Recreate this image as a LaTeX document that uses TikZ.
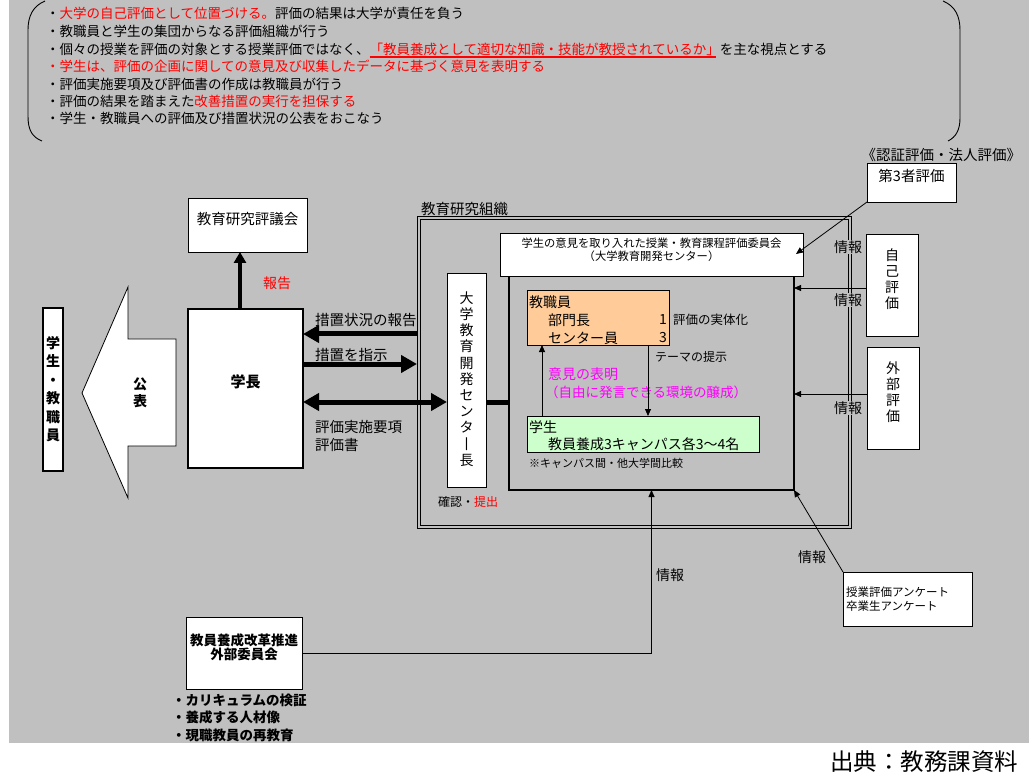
\documentclass[tikz,border=0pt]{standalone}
\usepackage{fontspec}
\usepackage{graphicx}
\newfontfamily\cjk{Noto Sans CJK JP}
\usetikzlibrary{arrows.meta,fit}
\definecolor{bg}{HTML}{C0C0C0}
\definecolor{orangebox}{HTML}{FFCC99}
\definecolor{greenbox}{HTML}{CCFFCC}
\definecolor{mag}{HTML}{FF00FF}
\newcommand\fsz[2]{\fontsize{#1}{#2}\selectfont}
\begin{document}
\begin{tikzpicture}[x=1pt,y=-1pt,
  every node/.style={inner sep=0pt, outer sep=0pt, font=\cjk},
  box/.style={draw=black, line width=0.8pt, fill=white, inner sep=0pt},
  boldbox/.style={draw=black, line width=2pt, fill=white, inner sep=0pt},
  thinarrow/.style={draw=black, line width=0.8pt, -{Triangle[length=7pt,width=6pt]}},
  fatarrow/.style={draw=black, line width=5pt, -{Triangle[length=16pt,width=17pt]}},
  toptxt/.style={anchor=west, font=\cjk\fsz{13.5}{17}},
  lbl/.style={font=\cjk\fsz{14}{16}},
  info/.style={font=\cjk\fsz{14}{16}, fill=bg, inner sep=0.5pt},
  ]
% page and background
\fill[white] (0,0) rectangle (1029,778);
\useasboundingbox (0,0) rectangle (1029,778);
\fill[bg] (9,0) rectangle (1029,743);

% top bracket box
\draw[line width=0.9pt] (45,1) .. controls (33,6) and (28,16) .. (28,30) -- (28,116) .. controls (28,130) and (32,137) .. (42,141);
\draw[line width=0.9pt] (943,1) .. controls (955,6) and (960,16) .. (960,30) -- (960,118) .. controls (960,130) and (956,137) .. (948,141);
\node[toptxt] (t1) at (46,13.5) {・{\color{red}大学の自己評価として位置づける。}評価の結果は大学が責任を負う};
\node[toptxt] (t2) at (46,31.5) {・教職員と学生の集団からなる評価組織が行う};
\node[toptxt] (t3a) at (46,49.5) {・個々の授業を評価の対象とする授業評価ではなく、};
\node[anchor=base west, font=\cjk\fsz{13.5}{17}, text=red] (t3b) at (t3a.base east) {「教員養成として適切な知識・技能が教授されているか」};
\node[anchor=base west, font=\cjk\fsz{13.5}{17}] (t3c) at (t3b.base east) {を主な視点とする};
\draw[red, line width=1.6pt] ([yshift=-2.5pt]t3b.base west) -- ([xshift=-4pt,yshift=-2.5pt]t3b.base east);
\node[toptxt, text=red] (t4) at (46,66.5) {・学生は、評価の企画に関しての意見及び収集したデータに基づく意見を表明する};
\node[toptxt] (t5) at (46,84) {・評価実施要項及び評価書の作成は教職員が行う};
\node[toptxt] (t6) at (46,101) {・評価の結果を踏まえた{\color{red}改善措置の実行を担保する}};
\node[toptxt] (t7) at (46,118.5) {・学生・教職員への評価及び措置状況の公表をおこなう};

% left side
\node[boldbox, line width=2.3pt, fit={(43,308) (63,471)}] (staff) {};
\node[align=center, font=\cjk\bfseries\fsz{14}{18.5}] at (53,389) {学\\生\\・\\教\\職\\員};
\draw[line width=0.8pt, fill=white] (82,393) -- (128,287) -- (128,339) -- (176,339) -- (176,446) -- (128,446) -- (128,498) -- cycle;
\node[align=center, font=\cjk\bfseries\fsz{14}{17}] (kohyo) at (140,393) {公\\表};
\node[boldbox, fit={(188,309) (303,468)}, font=\cjk\bfseries\fsz{15}{18}] (gakucho) {学長};
\node[box, fit={(188,198) (307,252)}, font=\cjk\fsz{14.5}{17}] (hyogi) {教育研究評議会};
\coordinate (v240) at (240,0);
\draw[line width=4pt, -{Triangle[length=11pt,width=12pt]}] (gakucho.north -| v240) -- (hyogi.south -| v240);
\node[lbl, text=red] at (277,283) {報告};

% organisation (double frame)
\node[draw, line width=0.8pt, fit={(417,216) (851,528)}] (org) {};
\node[draw, line width=0.8pt, fit={(420,219) (848,525)}] (orgin) {};
\node[anchor=west, font=\cjk\fsz{14.5}{17}] at (421,209.5) {教育研究組織};

% inner frame and committee
\node[draw, line width=2pt, fit={(509,255) (794,490)}] (inner) {};
\node[box, fit={(500,233) (803,276)}, align=center, font=\cjk\fsz{11.3}{13}] (committee) {学生の意見を取り入れた授業・教育課程評価委員会\\（大学教育開発センター）};

% centre head
\node[box, fit={(447,273) (486,487)}] (center) {};
\node[align=center, font=\cjk\fsz{14}{16.2}] at (466.5,379) {大\\学\\教\\育\\開\\発\\セ\\ン\\タ\\丨\\長};
\node[font=\cjk\fsz{12}{14}] at (468,502) {確認・{\color{red}提出}};

% arrows between president and organisation
\coordinate (h1) at (0,334);
\coordinate (h2) at (0,364);
\coordinate (h3) at (0,402);
\draw[fatarrow] (org.west |- h1) -- (gakucho.east |- h1);
\draw[fatarrow] (gakucho.east |- h2) -- (org.west |- h2);
\draw[fatarrow, {Triangle[length=16pt,width=17pt]}-{Triangle[length=16pt,width=17pt]}] (gakucho.east |- h3) -- (center.west |- h3);
\draw[line width=5pt] (center.east |- h3) -- (inner.west |- h3);
\node[anchor=west, font=\cjk\fsz{14.5}{17}] at (315,320) {措置状況の報告};
\node[anchor=west, font=\cjk\fsz{14.5}{17}] at (315,355) {措置を指示};
\node[anchor=west, align=left, font=\cjk\fsz{14.5}{18}] at (315,436) {評価実施要項\\評価書};

% staff and students
\node[box, fill=orangebox, fit={(527,290) (669,345)}] (kyoshoku) {};
\node[anchor=west, font=\cjk\fsz{14}{16}] at (529,302) {教職員};
\node[anchor=west, font=\cjk\fsz{14}{16}] at (548,320) {部門長};
\node[anchor=west, font=\cjk\fsz{14}{16}] at (548,338) {センター員};
\node[anchor=east, font=\cjk\fsz{14}{16}] at (667,320) {1};
\node[anchor=east, font=\cjk\fsz{14}{16}] at (667,338) {3};
\node[box, fill=greenbox, fit={(527,416) (759,452)}] (gakusei) {};
\node[anchor=west, font=\cjk\fsz{14}{16}] at (529,427) {学生};
\node[anchor=west, font=\cjk\fsz{14}{16}] at (548,444) {教員養成3キャンパス各3～4名};
\node[anchor=west, font=\cjk\fsz{11}{13}] at (529,463) {※キャンパス間・他大学間比較};
\node[anchor=west, font=\cjk\fsz{12.5}{15}] at (673,320) {評価の実体化};
\node[anchor=west, font=\cjk\fsz{12}{15}] at (655,357) {テーマの提示};
\node[anchor=west, text=mag, font=\cjk\fsz{14}{16}] at (548,374) {意見の表明};
\node[anchor=west, text=mag, font=\cjk\fsz{13.5}{16}] at (545,392) {（自由に発言できる環境の醸成）};
\coordinate (v542) at (542,0);
\coordinate (v648) at (648,0);
\draw[thinarrow] (gakusei.north -| v542) -- (kyoshoku.south -| v542);
\draw[thinarrow] (kyoshoku.south -| v648) -- (gakusei.north -| v648);

% right side
\node[anchor=east, font=\cjk\fsz{14.5}{17}] at (1021,155) {《認証評価・法人評価》};
\node[box, fit={(867,163) (956,202)}, font=\cjk\fsz{14.5}{17}] (third) {第3者評価};
\node[box, fit={(866,234) (918,336)}, align=center, font=\cjk\fsz{14}{16}] (jiko) {自\\己\\評\\価};
\node[box, fit={(867,347) (919,449)}, align=center, font=\cjk\fsz{14}{16}] (gaibu) {外\\部\\評\\価};
\node[box, fit={(843,572) (972,626)}] (enq) {};
\node[anchor=west, align=left, font=\cjk\fsz{11.5}{14}] at (846,599) {授業評価アンケート\\卒業生アンケート};
\coordinate (c3) at (796,254);
\coordinate (r1) at (0,288);
\coordinate (r2) at (0,394);
\draw[thinarrow] (third.south west) -- (c3);
\draw[thinarrow] (jiko.west |- r1) -- (inner.east |- r1);
\draw[thinarrow] (gaibu.west |- r2) -- (inner.east |- r2);
\draw[thinarrow] (enq.north west) -- (inner.south east);
\node[info] at (848,247) {情報};
\node[info] at (848,300) {情報};
\node[info] at (848,408) {情報};
\node[lbl] at (812,557) {情報};

% external committee
\node[box, fit={(186,617) (302,689)}, align=center, font=\cjk\bfseries\fsz{13.5}{13.5}] (ext) {教員養成改革推進\\外部委員会};
\draw[thinarrow] (ext.east) -| (inner.south);
\node[lbl] at (670,575) {情報};
\node[anchor=west, font=\cjk\bfseries\fsz{13.5}{16}] at (172,700) {・カリキュラムの検証};
\node[anchor=west, font=\cjk\bfseries\fsz{13.5}{16}] at (172,717) {・養成する人材像};
\node[anchor=west, font=\cjk\bfseries\fsz{13.5}{16}] at (172,735) {・現職教員の再教育};

% source
\node[anchor=west, font=\cjk\fsz{23.5}{26}] at (830,762) {出典：教務課資料};
\end{tikzpicture}
\end{document}
